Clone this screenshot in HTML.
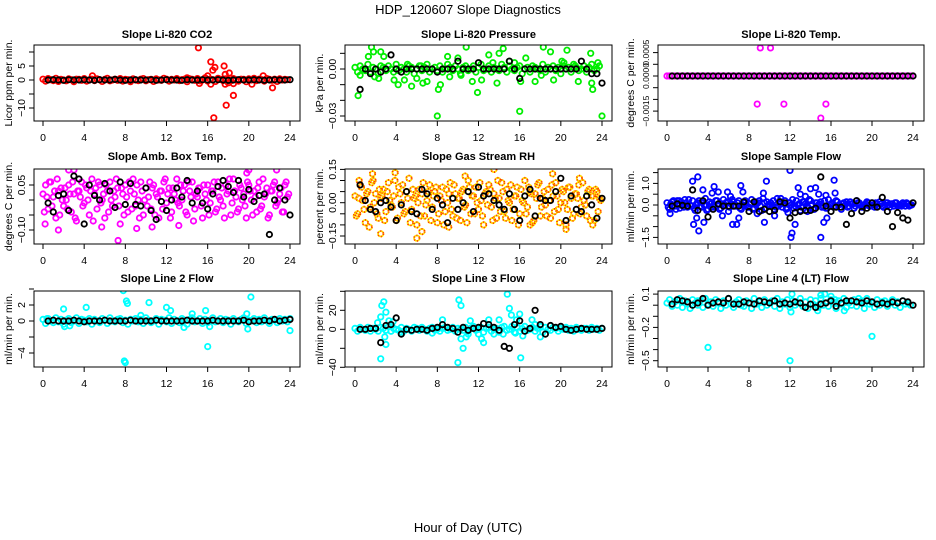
<!DOCTYPE html>
<html><head><meta charset="utf-8"><style>
body{margin:0;background:#fff;}
svg{display:block;font-family:"Liberation Sans",Arial,sans-serif;}
</style></head><body>
<svg id="c" width="936" height="540" viewBox="0 0 936 540">
<text x="468" y="14" text-anchor="middle" font-size="13">HDP_120607  Slope Diagnostics</text>
<text x="468" y="532" text-anchor="middle" font-size="13">Hour of Day (UTC)</text>
</svg>
<script>
const HOURS96=[0,0.25,0.5,0.75,1,1.25,1.5,1.75,2,2.25,2.5,2.75,3,3.25,3.5,3.75,4,4.25,4.5,4.75,5,5.25,5.5,5.75,6,6.25,6.5,6.75,7,7.25,7.5,7.75,8,8.25,8.5,8.75,9,9.25,9.5,9.75,10,10.25,10.5,10.75,11,11.25,11.5,11.75,12,12.25,12.5,12.75,13,13.25,13.5,13.75,14,14.25,14.5,14.75,15,15.25,15.5,15.75,16,16.25,16.5,16.75,17,17.25,17.5,17.75,18,18.25,18.5,18.75,19,19.25,19.5,19.75,20,20.25,20.5,20.75,21,21.25,21.5,21.75,22,22.25,22.5,22.75,23,23.25,23.5,23.75,24];
const HOURS96B=[0.125,0.375,0.625,0.875,1.125,1.375,1.625,1.875,2.125,2.375,2.625,2.875,3.125,3.375,3.625,3.875,4.125,4.375,4.625,4.875,5.125,5.375,5.625,5.875,6.125,6.375,6.625,6.875,7.125,7.375,7.625,7.875,8.125,8.375,8.625,8.875,9.125,9.375,9.625,9.875,10.125,10.375,10.625,10.875,11.125,11.375,11.625,11.875,12.125,12.375,12.625,12.875,13.125,13.375,13.625,13.875,14.125,14.375,14.625,14.875,15.125,15.375,15.625,15.875,16.125,16.375,16.625,16.875,17.125,17.375,17.625,17.875,18.125,18.375,18.625,18.875,19.125,19.375,19.625,19.875,20.125,20.375,20.625,20.875,21.125,21.375,21.625,21.875,22.125,22.375,22.625,22.875,23.125,23.375,23.625,23.875];
const HOURS48=[0.5,1,1.5,2,2.5,3,3.5,4,4.5,5,5.5,6,6.5,7,7.5,8,8.5,9,9.5,10,10.5,11,11.5,12,12.5,13,13.5,14,14.5,15,15.5,16,16.5,17,17.5,18,18.5,19,19.5,20,20.5,21,21.5,22,22.5,23,23.5,24];
const X_TICKS=[0,4,8,12,16,20,24];

// CO2
const co2Main=[0.3,-0.4,0.5,0.1,-0.2,0.6,-0.5,0.2,0,-0.3,0.4,0.1,-0.6,0.3,0.2,-0.1,0.5,-0.4,0,0.3,-0.2,0.4,0.1,-0.5,0.2,0.6,-0.3,0,0.3,-0.1,0.5,-0.4,0.2,0.1,-0.6,0.4,0,-0.2,0.3,0.5,-0.3,0.1,0.2,-0.5,0.4,0,-0.1,0.6,0.3,-0.4,0.2,0,0.5,-0.2,0.1,0.3,-0.6,0.4,0.2,-0.1,0.5,-0.3,0,0.8,-0.4,0.3,0.1,-0.5,0.6,0.2,-0.2,0.4,0,-0.3,0.5,0.1,-0.4,0.3,0.2,-0.6,0.4,0,0.6,-0.2,0.3,0.1,-0.4,0.5,0.2,-0.1,0.3,-0.5,0.4,0,0.2,0.1];
const co2Black=[0,0.1,0,-0.1,0.1,0,0,0.1,0,-0.1,0.1,0,0,0.2,0,-0.1,0,0.1,0,0,0.1,-0.1,0,0.1,0,0,-0.1,0.1,0,0,0.1,0,0,0.1,0,-0.1,0,0.1,0,0,0.1,0,-0.1,0,0.1,0,0,0.1];
const co2OutX=[15.1,16.3,16.5,16.7,17.6,17.7,18.1,16.6,17.8,18.5,16.3,15.2,17.7,18.0,18.5,4.8,21.4,20.3,22.3,16.0,14.0];
const co2OutY=[11.5,6.5,3.5,4.5,5,2,2.5,-13.5,-9,-5.5,-1.5,-1.2,-1.5,-1,-1.3,1.5,1.5,-1.5,-2.8,1.5,0.8];

// Pressure
const presMain=[0.001,-0.002,0.002,0,-0.001,0.003,-0.002,0.001,0,-0.003,0.002,0.001,-0.001,0.002,0,-0.002,0.003,-0.001,0.001,0,-0.002,0.002,0.001,-0.003,0,0.002,-0.001,0.001,0.003,-0.002,0,0.001,-0.001,0.002,-0.002,0,0.003,0.001,-0.001,0.002,0,-0.003,0.001,0.002,-0.001,0,0.002,-0.002,0.001,0.003,-0.001,0,0.002,-0.002,0.001,0,-0.001,0.003,0.001,-0.002,0.002,0,-0.001,0.001,0.002,-0.003,0,0.001,-0.002,0.002,0.001,0,-0.001,0.003,-0.002,0.001,0,0.002,-0.001,0.001,-0.003,0.002,0,0.001,-0.002,0.003,0.001,-0.001,0,0.002,-0.002,0.001,0.003,-0.001,0,0.002];
const presBlack=[-0.013,0,-0.003,0,-0.002,0,0.009,0,-0.002,0,0,0,0,0,0,-0.002,0,0,0,0.005,0,0,0,0.004,0,0,0,0,0,0.005,0,-0.006,0,0,0,0,0,0,0,0,0,0,0,0.005,0,-0.003,-0.003,-0.009];
const presOutX=[0.3,1.3,1.6,1.8,2.3,2.5,2.8,3.8,4.2,4.8,5.5,6.0,6.6,7.0,8.0,8.1,8.3,9.0,9.2,10.0,10.3,10.8,11.4,11.9,13.0,13.4,13.8,14.0,14.4,15.0,16.0,16.1,16.6,17.5,18.3,19.0,19.3,20.3,20.6,21.4,21.7,22.9,23.1,23.6,24.0,23.0,0.5,1.9,6.4,5.1,12.3,15.5,18.1,20.1];
const presOutY=[-0.017,0.008,0.014,0.011,-0.006,0.011,0.008,-0.007,-0.01,-0.007,-0.011,-0.006,-0.009,-0.008,-0.03,-0.013,-0.01,0.008,-0.005,0.007,-0.004,0.014,-0.008,-0.015,0.009,0.004,-0.009,0.01,0.013,0.005,-0.027,-0.008,0.007,-0.008,0.014,0.011,-0.007,0.004,0.012,0.002,-0.008,0.01,-0.013,0.004,-0.03,-0.009,-0.004,-0.005,0.002,0.003,-0.007,0.004,-0.004,0.005];

// Li-820 Temp
const tempMain=[0,0,0,0,0,0,0,0,0,0,0,0,0,0,0,0,0,0,0,0,0,0,0,0,0,0,0,0,0,0,0,0,0,0,0,0,0,0,0,0,0,0,0,0,0,0,0,0,0,0,0,0,0,0,0,0,0,0,0,0,0,0,0,0,0,0,0,0,0,0,0,0,0,0,0,0,0,0,0,0,0,0,0,0,0,0,0,0,0,0,0,0,0,0,0,0,0];
const tempBlack=[0,0,0,0,0,0,0,0,0,0,0,0,0,0,0,0,0,0,0,0,0,0,0,0,0,0,0,0,0,0,0,0,0,0,0,0,0,0,0,0,0,0,0,0,0,0,0,0];
const tempOutX=[9.1,10.1,8.8,11.4,15.5,15.0];
const tempOutY=[0.0012,0.0012,-0.0012,-0.0012,-0.0012,-0.0018];

// Amb Box Temp
const ambA=[0.02,0.05,-0.03,0.06,0.01,-0.06,0.03,0.04,-0.02,0,0.05,-0.04,0.02,-0.07,0.03,0.06,-0.01,0.04,-0.05,0.07,0.02,-0.03,0.05,0,-0.06,0.03,0.06,-0.02,0.01,0.04,-0.08,0.02,0.05,-0.04,0.03,0.07,-0.02,0,0.06,-0.05,0.04,0.01,-0.03,0.05,0.02,-0.06,0.03,0.06,-0.01,0.04,-0.04,0.02,0.07,-0.02,0,0.05,-0.05,0.03,0.06,-0.03,0.01,0.04,-0.06,0.02,0.05,-0.01,0.03,-0.04,0.06,0,-0.02,0.05,0.03,-0.05,0.07,0.01,-0.03,0.04,0.02,-0.06,0.05,0,0.03,-0.04,0.06,-0.02,0.01,0.04,-0.05,0.03,0.06,-0.01,0.02,-0.04,0.05,0.01];
const ambB=[-0.04,0.01,0.06,-0.02,0.03,0.07,-0.05,0,0.04,-0.03,0.02,0.06,-0.06,0.03,0.01,-0.02,0.05,0,0.03,-0.07,0.04,0.06,-0.01,0.02,0.05,-0.04,0,0.03,0.07,-0.02,0.04,-0.05,0.01,0.06,-0.03,0.02,0.05,-0.06,0.03,0,-0.02,0.06,0.04,-0.05,0.01,0.03,-0.03,0.07,0.02,-0.06,0.04,0,-0.01,0.05,0.03,-0.04,0.06,0.01,-0.07,0.02,0.04,-0.02,0.05,0,-0.05,0.03,0.06,-0.03,0.01,0.04,-0.06,0.02,0.07,-0.01,0.03,-0.04,0.05,0,-0.02,0.06,0.03,-0.05,0.01,0.04,-0.03,0.07,0.02,-0.06,0.03,0.05,-0.02,0,0.04,-0.04,0.06,0.02];
const ambBlack=[-0.01,-0.04,0.015,0.02,-0.035,0.08,0.07,-0.08,0.05,0.015,0,0.055,0.03,-0.025,0.06,-0.015,0.055,-0.015,-0.02,0.04,-0.035,-0.065,-0.005,-0.035,0,0.04,0.01,0.065,-0.01,0.03,-0.01,-0.03,0.02,0.045,0.065,0.045,0.025,0.065,0.01,0.035,-0.005,0.015,0.02,-0.115,0,0.04,0,-0.05];
const ambOutX=[0.2,2.5,3,7.3,9.1,10.6,5.7,20,22.7,19.8,1.5,13.2];
const ambOutY=[-0.08,0.1,0.1,-0.135,-0.095,-0.09,-0.09,0.1,0.1,0.09,-0.1,-0.085];

// Gas Stream RH
const rhA=[0.03,-0.05,0.08,0.01,-0.09,0.05,-0.02,0.1,0.04,-0.07,0.02,0.06,-0.04,0.09,-0.01,0.03,-0.08,0.07,0,-0.05,0.05,0.11,-0.03,0.02,-0.1,0.06,0.04,-0.06,0.01,0.08,-0.02,0.05,-0.09,0.03,0.07,-0.04,0,0.09,-0.06,0.04,0.02,-0.08,0.06,-0.01,0.1,-0.05,0.03,0.07,-0.03,0.01,-0.1,0.05,0.08,-0.02,0.04,-0.07,0.02,0.09,-0.04,0.06,0,-0.08,0.03,0.07,-0.05,0.01,0.1,-0.02,0.05,-0.09,0.04,0.08,-0.06,0.02,-0.01,0.06,-0.07,0.03,0.09,-0.03,0,0.05,-0.1,0.07,0.02,-0.05,0.04,0.08,-0.02,0.01,-0.06,0.06,0.03,-0.08,0.05,0.02];
const rhB=[-0.06,0.02,0.07,-0.03,0.04,-0.11,0.09,0,-0.05,0.06,0.03,-0.08,0.05,0.01,-0.02,0.1,-0.07,0.04,0.08,-0.04,0.02,-0.09,0.06,0.03,0,-0.06,0.09,-0.01,0.05,-0.08,0.03,0.07,-0.05,0.01,-0.1,0.06,0.04,-0.03,0.08,-0.07,0.02,0.05,-0.02,-0.09,0.07,0.03,-0.05,0,0.09,-0.06,0.04,-0.01,0.06,-0.08,0.02,0.1,-0.04,0.05,-0.07,0.01,0.08,-0.03,0.03,-0.1,0.06,0,-0.05,0.07,0.04,-0.08,0.02,0.09,-0.02,0.05,-0.06,0.01,0.08,-0.04,0.03,-0.09,0.06,0,-0.03,0.07,-0.07,0.04,0.02,-0.05,0.09,-0.01,0.05,-0.08,0.03,0.06,-0.04,0.01];
const rhBlack=[0.08,0.01,-0.03,-0.04,0,0.01,-0.02,-0.08,-0.01,0.05,-0.04,-0.05,0.06,0.04,-0.03,0.02,-0.01,-0.09,0.02,-0.03,0,0.05,-0.04,0.07,0.03,0.04,0.01,-0.01,-0.03,0.04,-0.03,-0.08,0.03,0.06,-0.06,0.02,0.01,0.01,0.05,0.11,-0.08,0.03,-0.03,-0.04,0.03,-0.01,-0.07,0.02];
const rhOutX=[1.7,2.5,3.9,6.0,6.5,9.1,10.7,13.5,17.0,19.2,20.5,21.8,23.1,0.4];
const rhOutY=[0.13,-0.14,0.135,-0.16,-0.13,-0.11,0.12,0.15,-0.1,0.13,-0.12,0.11,-0.1,0.1];

// Sample Flow
const flowA=[0.1,-0.2,0.15,-0.05,0.2,-0.15,0.05,0.25,-0.1,0,0.2,-0.25,0.1,-0.05,0.15,0.3,-0.2,0.05,-0.1,0.2,0,-0.15,0.25,0.1,-0.3,0.05,0.15,-0.05,0.2,-0.2,0.1,0,-0.1,0.25,-0.15,0.05,0.2,-0.25,0.1,0.15,-0.05,0,-0.2,0.3,0.05,-0.1,0.2,-0.15,0.1,0.25,-0.05,0,-0.25,0.15,0.05,-0.1,0.2,-0.2,0.1,0,0.15,-0.05,-0.15,0.25,0.05,-0.1,0.2,0,-0.2,0.1,0.15,-0.05,0.05,-0.15,0.2,0.1,-0.1,0,0.15,-0.05,0.1,-0.1,0.05,0.15,-0.05,0,0.1,-0.1,0.05,0.1,-0.05,0,0.1,-0.05,0.05,0];
const flowB=[-0.1,0.05,0.2,-0.2,0,0.15,-0.1,0.1,0.25,-0.05,-0.15,0.05,0.2,-0.1,0,-0.25,0.15,0.1,-0.05,0.2,-0.2,0.05,0,0.15,-0.1,0.25,-0.05,0.1,-0.15,0,0.2,-0.1,0.05,-0.2,0.15,0.1,-0.05,0.3,-0.15,0,0.1,0.2,-0.1,-0.05,0.15,0.05,-0.2,0.1,0,-0.15,0.2,0.05,-0.1,0.15,-0.05,0.25,0,-0.2,0.1,0.05,-0.1,0.2,-0.15,0,0.1,-0.05,0.15,-0.1,0.05,0,-0.1,0.15,0.05,-0.05,0.1,0,-0.1,0.05,0.1,-0.05,0,0.1,-0.05,0.05,-0.1,0.1,0,0.05,-0.05,0.1,0,-0.05,0.05,0.1,-0.05,0];
const flowBlack=[-0.05,0.05,-0.02,-0.05,0.7,-0.25,0.2,-0.55,-0.2,0.05,-0.05,-0.05,-0.05,-0.05,0.15,-0.3,0.15,-0.3,-0.2,-0.3,-0.25,0.15,0.1,-0.6,-0.35,-0.3,-0.25,-0.25,-0.15,1.3,-0.05,-0.3,-0.1,-0.1,-0.9,-0.4,0.2,-0.3,-0.15,0.1,-0.1,0.35,-0.3,-1.0,-0.35,-0.6,-0.7,0.1];
const flowOutX=[0.3,1.2,2.5,2.6,3.0,3.1,2.9,3.5,3.6,4.6,4.4,5.0,5.4,5.9,6.2,6.4,6.8,7.2,7.4,7.0,9.4,9.5,9.7,10.5,11.1,11.8,12.0,12.2,12.1,12.5,12.8,13.0,13.5,14.0,14.5,15.0,15.3,15.5,15.6,16.3,16.4,14.8,13.7,8.8];
const flowOutY=[-0.4,0.2,1.1,-0.9,1.3,-1.2,-0.6,0.7,-0.8,0.85,0.55,0.6,-0.5,0.6,0.4,-0.9,-0.9,0.9,0.6,-0.6,0.55,-0.8,1.1,-0.5,0.3,-0.35,1.6,-1.3,-1.5,-0.9,0.8,0.5,0.4,0.75,0.8,-1.5,-0.8,0.45,-0.6,1.15,0.55,0.5,-0.3,-0.4];

// Line 2 Flow
const l2Main=[0.2,-0.3,0.3,0,-0.2,0.4,-0.1,0.2,-0.4,0.1,0.3,-0.2,0,0.4,-0.3,0.2,0.1,-0.1,0.3,-0.4,0.2,0,-0.2,0.3,0.1,-0.3,0.4,0,-0.1,0.2,0.3,-0.2,0.1,-0.4,0.2,0,0.3,-0.1,0.2,-0.3,0.4,0.1,-0.2,0,0.3,-0.4,0.2,0.1,-0.1,0.4,-0.3,0.2,0,-0.2,0.3,0.1,-0.4,0.2,0.4,-0.1,0,0.3,-0.3,0.2,-0.2,0.1,0.4,-0.1,0,0.3,-0.2,0.2,0.1,-0.4,0.3,0,-0.1,0.2,0.4,-0.3,0.1,0,0.3,-0.2,0.2,-0.1,0.4,0,-0.3,0.2,0.1,-0.2,0.3,0,0.2,-0.1,0.3];
const l2Black=[0,0.1,0,0,0,0.1,0,-0.1,0,0,0,0.1,0,0,0,0,0.1,0,0,0,0,0.1,0,0,0,0,0,0.1,0,0,0,0,0.1,0,0,0,0,0,0.1,-0.1,0,0,0.1,0,0.2,0,0.1,0.2];
const l2OutX=[7.8,8.0,7.9,8.1,8.2,10.3,12.0,12.4,4.2,2.0,16.0,15.8,16.2,13.7,19.9,20.2,19.8,24.0,0.4,2.1,2.6,9.5,14.5];
const l2OutY=[3.8,-5.2,-5.0,2.5,2.2,2.3,1.7,1.3,1.7,1.5,-3.2,1.3,-0.7,-0.8,-1.0,3.0,0.9,-1.2,0.3,-0.7,-0.6,0.7,0.9];

// Line 3 Flow
const l3Main=[1,-2,2,0,-1,2,-2,1,0,-2,2,1,-1,3,-2,1,0,-1,2,-2,1,0,-2,2,1,-1,2,0,-2,1,2,-1,0,-2,1,2,-1,0,2,-2,1,0,-1,2,-2,1,3,-1,0,2,-3,1,2,-2,0,1,-3,2,3,-1,0,3,-3,2,-2,1,3,-1,0,2,-2,1,3,-3,2,0,-1,2,1,-2,1,0,2,-1,1,-2,2,0,-1,1,1,-1,2,0,1,-1,1];
const l3Black=[0,0,1,1,-14,4,5,12,-5,0,-1,0,0,-1,1,2,5,2,1,-3,2,-1,1,2,6,5,2,-1,-18,-20,5,9,-2,1,20,5,-5,4,2,3,0,-1,0,1,0,0,0,1];
const l3OutX=[2.2,2.5,2.6,2.8,3.0,2.9,3.0,2.5,3.3,3.5,10.0,10.1,10.3,10.3,10.5,10.8,11.0,11.2,12.0,12.3,12.5,13.0,13.5,14.0,14.4,14.8,15.0,15.2,15.6,15.7,16.0,16.1,16.3,17.2,17.5,18.0,8.5,7.5,4.5,3.7];
const l3OutY=[7,13,25,29,18,-8,-16,-31,9,-2,-35,31,25,-10,-20,-8,-5,9,-5,-10,-14,10,-5,10,-5,37,22,15,-4,10,16,-30,-7,10,5,-8,10,-4,-3,8];

// Line 4 Flow
const l4Main=[0.02,0.05,-0.01,0.03,0,0.06,-0.02,0.04,0.01,-0.03,0.05,0.02,0,0.04,-0.02,0.06,0.01,0.03,-0.01,0.05,0.02,-0.03,0.04,0,0.06,0.01,-0.02,0.03,0.05,0,-0.01,0.04,0.02,-0.03,0.06,0.01,0.03,-0.02,0.05,0,0.02,0.04,-0.01,0.06,-0.03,0.03,0.01,0.05,-0.02,0.04,0,0.02,0.06,-0.01,0.03,-0.03,0.05,0.01,0.04,-0.02,0.06,0,0.02,-0.01,0.05,0.03,-0.03,0.04,0.01,0.06,-0.02,0.02,0,0.05,-0.01,0.03,0.04,-0.03,0.06,0.01,0.02,-0.02,0.05,0,0.03,0.04,-0.01,0.02,0.05,0,0.03,-0.02,0.04,0.01,0.02,0];
const l4Black=[0.01,0.05,0.04,0.03,0,0.02,0.06,0,0.02,0.03,0.02,0.06,0.01,0.01,0.03,0.02,0.01,0.04,0.03,0.02,0.04,0.01,0.02,0.01,0.03,0.02,-0.02,0.01,-0.02,0.01,0.02,0.04,-0.01,0.02,0.04,0.04,0.03,0.02,0.04,0.03,0.01,0.02,0.01,0.03,0.02,0.04,0.03,0];
const l4OutX=[4.0,12.0,20.0,12.2,15.0,15.4,16.0,12.1,16.4,18.7,14.7,17.3,3.0];
const l4OutY=[-0.38,-0.5,-0.28,0.1,0.09,0.1,0.08,-0.06,0.05,0.06,-0.05,-0.05,0.04];

const NS='http://www.w3.org/2000/svg';
const svg=document.getElementById('c');
function mk(tag,attrs,parent){const e=document.createElementNS(NS,tag);for(const k in attrs)e.setAttribute(k,attrs[k]);(parent||svg).appendChild(e);return e;}

const COLS=[{l:34,r:300,x0:43,x24:290,lab:12},{l:345,r:612,x0:355,x24:602,lab:323},{l:658,r:924,x0:667,x24:913,lab:634}];
const ROWS=[{t:45,b:121,title:38},{t:169,b:244,title:160},{t:291,b:367,title:282}];

const panels=[
 {name:'co2',title:'Slope Li-820 CO2',ylab:'Licor ppm per min.',c:0,r:0,v0:0,p0:80,v1:5,p1:66,ticks:[-10,-5,0,5,10],labels:{'-10':'\u221210','0':'0','5':'5'},col:'#ff0000',main:[[HOURS96,co2Main]],black:co2Black,ox:co2OutX,oy:co2OutY},
 {name:'pressure',title:'Slope Li-820 Pressure',ylab:'kPa per min.',c:1,r:0,v0:0,p0:69,v1:-0.03,p1:116,ticks:[0.01,0,-0.01,-0.02,-0.03],labels:{'0':'0.00','-0.03':'\u22120.03'},col:'#00ee00',main:[[HOURS96,presMain]],black:presBlack,ox:presOutX,oy:presOutY},
 {name:'li820-temp',title:'Slope Li-820 Temp.',ylab:'degrees C per min.',c:2,r:0,v0:0,p0:76,v1:0.0005,p1:64.3,ticks:[0.001,0.0005,0,-0.0005,-0.001,-0.0015],labels:{'0.001':'0.0005','0':'0.0000','-0.0015':'\u22120.0015'},lf:8.5,col:'#ff00ff',main:[[HOURS96,tempMain]],black:tempBlack,ox:tempOutX,oy:tempOutY},
 {name:'amb-box-temp',title:'Slope Amb. Box Temp.',ylab:'degrees C per min.',c:0,r:1,v0:0,p0:200,v1:0.05,p1:185,ticks:[0.05,0,-0.05,-0.1],labels:{'0.05':'0.05','-0.1':'\u22120.10'},col:'#ff00ff',main:[[HOURS96,ambA],[HOURS96B,ambB]],black:ambBlack,ox:ambOutX,oy:ambOutY},
 {name:'gas-stream-rh',title:'Slope Gas Stream RH',ylab:'percent per min.',c:1,r:1,v0:0,p0:202.7,v1:0.05,p1:191.6,ticks:[0.15,0.1,0.05,0,-0.05,-0.1,-0.15],labels:{'0.15':'0.15','0':'0.00','-0.15':'\u22120.15'},col:'#ffe000',dash:'#ff3000',main:[[HOURS96,rhA],[HOURS96B,rhB]],black:rhBlack,ox:rhOutX,oy:rhOutY},
 {name:'sample-flow',title:'Slope Sample Flow',ylab:'ml/min per min.',c:2,r:1,v0:0,p0:205,v1:0.5,p1:194.2,ticks:[1.5,1,0.5,0,-0.5,-1,-1.5],labels:{'1':'1.0','0':'0.0','-1.5':'\u22121.5'},col:'#0000ff',main:[[HOURS96,flowA],[HOURS96B,flowB]],black:flowBlack,ox:flowOutX,oy:flowOutY},
 {name:'line2-flow',title:'Slope Line 2 Flow',ylab:'ml/min per min.',c:0,r:2,v0:0,p0:321,v1:2,p1:305,ticks:[4,2,0,-2,-4],labels:{'2':'2','0':'0','-4':'\u22124'},col:'#00ffff',main:[[HOURS96,l2Main]],black:l2Black,ox:l2OutX,oy:l2OutY},
 {name:'line3-flow',title:'Slope Line 3 Flow',ylab:'ml/min per min.',c:1,r:2,v0:0,p0:329.3,v1:20,p1:310.3,ticks:[40,20,0,-20,-40],labels:{'20':'20','0':'0','-40':'\u221240'},col:'#00ffff',main:[[HOURS96,l3Main]],black:l3Black,ox:l3OutX,oy:l3OutY},
 {name:'line4-flow',title:'Slope Line 4 (LT) Flow',ylab:'ml/min per min.',c:2,r:2,v0:0,p0:305.2,v1:0.1,p1:294.1,ticks:[0.1,0,-0.1,-0.2,-0.3,-0.4,-0.5],labels:{'0.1':'0.1','-0.2':'\u22120.2','-0.5':'\u22120.5'},col:'#00ffff',main:[[HOURS96,l4Main]],black:l4Black,ox:l4OutX,oy:l4OutY}
];

panels.forEach(p=>{
 const C=COLS[p.c],R=ROWS[p.r];
 const g=mk('g',{});
 
 
 const xs=h=>C.x0+(C.x24-C.x0)*h/24;
 const ys=v=>p.p0+(v-p.v0)*(p.p1-p.p0)/(p.v1-p.v0);
 const cp='cp-'+p.name;
 const cl=mk('clipPath',{id:cp},g);
 mk('rect',{x:C.l,y:R.t,width:C.r-C.l,height:R.b-R.t},cl);
 const pts=mk('g',{'clip-path':'url(#'+cp+')'},g);
 
 
 function dot(h,v,color,dash){
  const e=mk('circle',{cx:xs(h).toFixed(1),cy:ys(v).toFixed(1),r:2.7,fill:'none',stroke:color,'stroke-width':1.8},pts);
  
  
  if(dash){mk('circle',{cx:xs(h).toFixed(1),cy:ys(v).toFixed(1),r:2.7,fill:'none',stroke:dash,'stroke-width':1.8,'stroke-dasharray':'1 2'},pts);}
 }
 p.main.forEach(([hs,vs])=>{const n=Math.min(hs.length,vs.length);for(let i=0;i<n;i++)dot(hs[i],vs[i],p.col,p.dash);});
 for(let i=0;i<Math.min(p.ox.length,p.oy.length);i++)dot(p.ox[i],p.oy[i],p.col,p.dash);
 for(let i=0;i<Math.min(HOURS48.length,p.black.length);i++)dot(HOURS48[i],p.black[i],'#000');
 const box=mk('rect',{x:C.l,y:R.t,width:C.r-C.l,height:R.b-R.t,fill:'none',stroke:'#000','stroke-width':1},g);
 
 
 const t=mk('text',{x:(C.l+C.r)/2,y:R.title,'text-anchor':'middle','font-size':11,'font-weight':'bold'},g);
 t.textContent=p.title;
 
 
 X_TICKS.forEach(h=>{
  mk('line',{x1:xs(h),x2:xs(h),y1:R.b,y2:R.b+5,stroke:'#000'},g);
  const tl=mk('text',{x:xs(h),y:R.b+20,'text-anchor':'middle','font-size':10.5},g);
  tl.textContent=h;
  
  
 });
 p.ticks.forEach(v=>{
  const y=ys(v);
  mk('line',{x1:C.l-5,x2:C.l,y1:y,y2:y,stroke:'#000'},g);
  const key=String(v);
  if(p.labels[key]!==undefined){
   const yl=mk('text',{x:0,y:0,transform:'translate('+(C.l-9)+','+y+') rotate(-90)','text-anchor':'middle','font-size':p.lf||10.5},g);
   yl.textContent=p.labels[key];
   
   
  }
 });
 const ya=mk('text',{x:0,y:0,transform:'translate('+C.lab+','+((R.t+R.b)/2)+') rotate(-90)','text-anchor':'middle','font-size':10.5},g);
 ya.textContent=p.ylab;
 
 
});
</script>
</body></html>
